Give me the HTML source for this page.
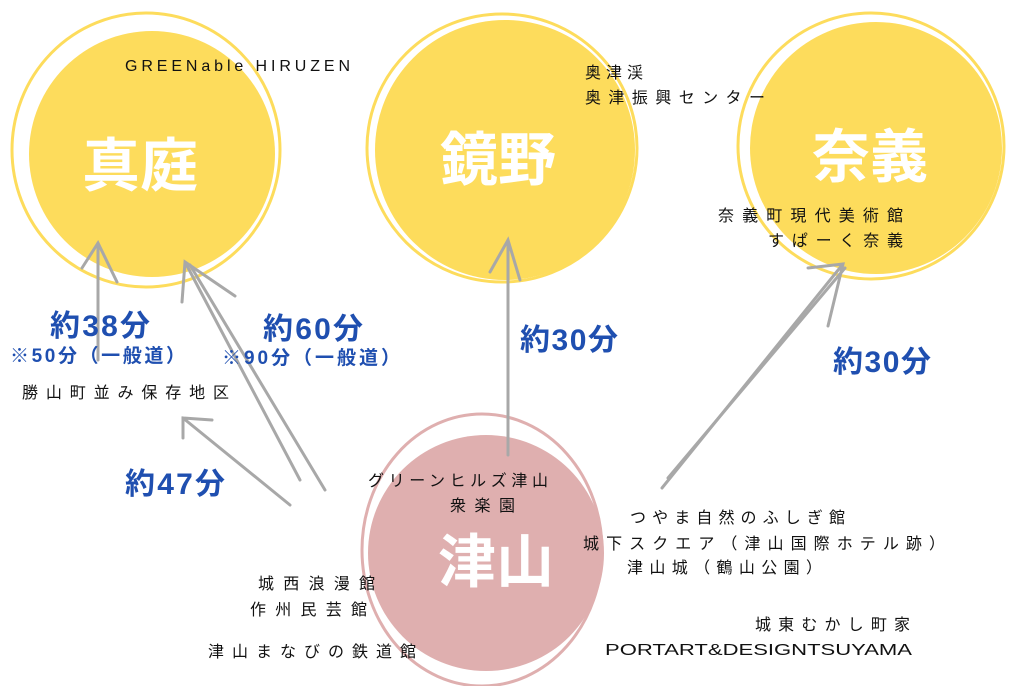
<!DOCTYPE html>
<html><head><meta charset="utf-8"><style>
html,body{margin:0;padding:0;background:#fff;width:1024px;height:686px;overflow:hidden}
svg{display:block}
.t{font-family:"Liberation Sans","Noto Sans CJK JP",sans-serif;font-size:16px;fill:#111}
.b{font-family:"Liberation Sans","Noto Sans CJK JP",sans-serif;font-weight:bold;fill:#1f4fb0}
.w{font-family:"Liberation Sans","Noto Sans CJK JP",sans-serif;font-weight:bold;fill:#fff;font-size:58px}
.a{stroke:#a8a8a8;stroke-width:3;fill:none;stroke-linecap:round}
</style></head><body>
<svg width="1024" height="686" viewBox="0 0 1024 686">
<circle cx="152" cy="154" r="123" fill="#fddc5c"/>
<ellipse cx="146" cy="150" rx="134" ry="137" fill="none" stroke="#fddc5c" stroke-width="3"/>
<circle cx="505" cy="150" r="130" fill="#fddc5c"/>
<ellipse cx="502" cy="148" rx="135" ry="134" fill="none" stroke="#fddc5c" stroke-width="3"/>
<circle cx="876" cy="148" r="126" fill="#fddc5c"/>
<ellipse cx="871" cy="146" rx="133" ry="133" fill="none" stroke="#fddc5c" stroke-width="3"/>
<circle cx="486" cy="553" r="118" fill="#dfafaf"/>
<ellipse cx="482" cy="550" rx="120" ry="136" fill="none" stroke="#dfafaf" stroke-width="3"/>
<text class="w" x="82" y="186">真庭</text>
<text class="w" x="440" y="180" font-size="60">鏡野</text>
<text class="w" x="812" y="177">奈義</text>
<text class="w" x="438" y="582">津山</text>
<path class="a" d="M98 360 L98 243 M82 268 L98 243 L117 282"/>
<path class="a" d="M300 480 L185 262 M182 302 L185 262 L235 296"/>
<path class="a" d="M325 490 L190 265"/>
<path class="a" d="M508 455 L508 240 M490 272 L508 240 L520 280"/>
<path class="a" d="M662 488 L843 264 M808 268 L843 264 L828 326"/>
<path class="a" d="M668 478 L845 268"/>
<path class="a" d="M290 505 L183 418 M183 438 L183 418 L212 420"/>
<text class="b" x="50" y="336" font-size="30" textLength="100">約38分</text>
<text class="b" x="10" y="362" font-size="19" textLength="175">※50分（一般道）</text>
<text class="b" x="263" y="339" font-size="30" textLength="100">約60分</text>
<text class="b" x="222" y="364" font-size="19" textLength="178">※90分（一般道）</text>
<text class="b" x="125" y="494" font-size="30" textLength="100">約47分</text>
<text class="b" x="520" y="350" font-size="30" textLength="98">約30分</text>
<text class="b" x="833" y="372" font-size="30" textLength="98">約30分</text>
<text class="t" x="125" y="71" font-size="17" textLength="225">GREENable HIRUZEN</text>
<text class="t" x="585" y="78" textLength="58">奥津渓</text>
<text class="t" x="585" y="103" textLength="180">奥津振興センター</text>
<text class="t" x="718" y="221" textLength="185">奈義町現代美術館</text>
<text class="t" x="768" y="246" textLength="135">すぱーく奈義</text>
<text class="t" x="22" y="398" textLength="207">勝山町並み保存地区</text>
<text class="t" x="368" y="486" textLength="180">グリーンヒルズ津山</text>
<text class="t" x="450" y="511" textLength="65">衆楽園</text>
<text class="t" x="630" y="523" textLength="215">つやま自然のふしぎ館</text>
<text class="t" x="583" y="549" textLength="362">城下スクエア（津山国際ホテル跡）</text>
<text class="t" x="627" y="573" textLength="195">津山城（鶴山公園）</text>
<text class="t" x="755" y="630" textLength="155">城東むかし町家</text>
<text class="t" x="605" y="655" font-size="19" textLength="307" lengthAdjust="spacingAndGlyphs">PORTART&amp;DESIGNTSUYAMA</text>
<text class="t" x="258" y="589" textLength="117">城西浪漫館</text>
<text class="t" x="250" y="615" textLength="117">作州民芸館</text>
<text class="t" x="208" y="657" textLength="208">津山まなびの鉄道館</text>
</svg>
</body></html>
